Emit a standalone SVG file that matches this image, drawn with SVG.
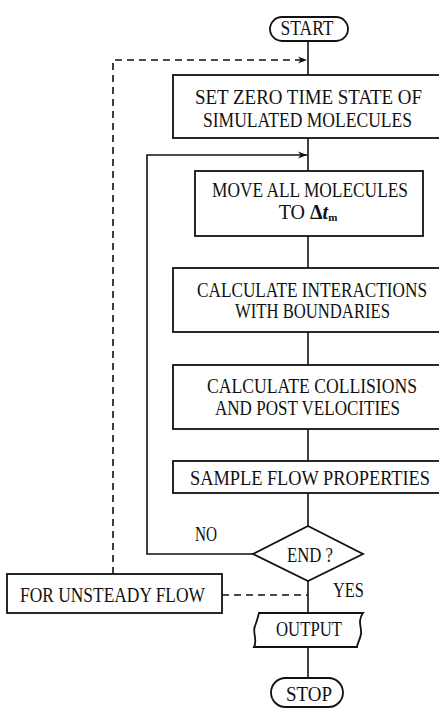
<svg xmlns="http://www.w3.org/2000/svg" width="439" height="710" viewBox="0 0 439 710">
<style>
  .n{fill:#fff;stroke:#111;stroke-width:1.8}
  .t{font-family:"Liberation Serif","Times New Roman",serif;font-size:20px;fill:#111;text-anchor:middle}
  .c{fill:none;stroke:#111;stroke-width:1.6}
  .d{fill:none;stroke:#111;stroke-width:1.6;stroke-dasharray:7 5}
</style>
<defs>
  <marker id="ah" viewBox="0 0 10 10" refX="10" refY="5" markerWidth="9" markerHeight="9" markerUnits="userSpaceOnUse" orient="auto">
    <path d="M0,1 L10,5 L0,9 L3,5 Z" fill="#111"/>
  </marker>
</defs>
<rect width="439" height="710" fill="#fff"/>
<g id="connectors">
  <path class="c" d="M308,41 V75"/>
  <path class="c" d="M308,138 V171"/>
  <path class="c" d="M308,236 V268"/>
  <path class="c" d="M308,332 V365"/>
  <path class="c" d="M308,429 V461"/>
  <path class="c" d="M308,493 V526"/>
  <path class="c" d="M308,581 V613"/>
  <path class="c" d="M308,647 V678"/>
  <path class="c" d="M253,554 H147 V155 H307" marker-end="url(#ah)"/>
  <path class="d" d="M113,574 V60 H307" marker-end="url(#ah)"/>
  <path class="d" d="M222,595 H308"/>
</g>
<g id="start">
  <rect class="n" x="270" y="17" width="78" height="24" rx="12"/>
  <text class="t" x="307" y="35" textLength="53" lengthAdjust="spacingAndGlyphs">START</text>
</g>
<g id="setzero">
  <rect class="n" x="173" y="75" width="275" height="63"/>
  <text class="t" x="308.5" y="104" textLength="227" lengthAdjust="spacingAndGlyphs">SET ZERO TIME STATE OF</text>
  <text class="t" x="307.5" y="127" textLength="209" lengthAdjust="spacingAndGlyphs">SIMULATED MOLECULES</text>
</g>
<g id="move">
  <rect class="n" x="195" y="171" width="228" height="65"/>
  <text class="t" x="310" y="197" textLength="196" lengthAdjust="spacingAndGlyphs">MOVE ALL MOLECULES</text>
  <text class="t" x="308" y="219">TO <tspan font-weight="bold">Δ</tspan><tspan font-weight="bold" font-style="italic">t</tspan><tspan font-size="11" font-weight="bold" dy="2">m</tspan></text>
</g>
<g id="interactions">
  <rect class="n" x="173" y="268" width="275" height="64"/>
  <text class="t" x="312" y="297" textLength="230" lengthAdjust="spacingAndGlyphs">CALCULATE INTERACTIONS</text>
  <text class="t" x="312.5" y="318" textLength="155" lengthAdjust="spacingAndGlyphs">WITH BOUNDARIES</text>
</g>
<g id="collisions">
  <rect class="n" x="173" y="365" width="275" height="64"/>
  <text class="t" x="312" y="393" textLength="210" lengthAdjust="spacingAndGlyphs">CALCULATE COLLISIONS</text>
  <text class="t" x="307.5" y="415" textLength="185" lengthAdjust="spacingAndGlyphs">AND POST VELOCITIES</text>
</g>
<g id="sample">
  <rect class="n" x="173" y="461" width="275" height="32"/>
  <text class="t" x="310" y="485" textLength="240" lengthAdjust="spacingAndGlyphs">SAMPLE FLOW PROPERTIES</text>
</g>
<g id="end">
  <path class="n" d="M308,526 L363,554 L308,581 L253,554 Z"/>
  <text class="t" x="310" y="562" textLength="46" lengthAdjust="spacingAndGlyphs">END ?</text>
</g>
<text class="t" x="206" y="541" textLength="22" lengthAdjust="spacingAndGlyphs">NO</text>
<text class="t" x="348.5" y="597" textLength="31" lengthAdjust="spacingAndGlyphs">YES</text>
<g id="unsteady">
  <rect class="n" x="7" y="574" width="215" height="39"/>
  <text class="t" x="112.5" y="602" textLength="185" lengthAdjust="spacingAndGlyphs">FOR UNSTEADY FLOW</text>
</g>
<g id="output">
  <path class="n" d="M259,613 H363 C357,621 362,628 361,634 C360,640 357,644 357,647 H254 C258,640 252,632 255,626 C257,621 258,617 259,613 Z"/>
  <text class="t" x="309" y="636" textLength="66" lengthAdjust="spacingAndGlyphs">OUTPUT</text>
</g>
<g id="stop">
  <rect class="n" x="271" y="678" width="72" height="29" rx="14.5"/>
  <text class="t" x="309" y="701" textLength="46" lengthAdjust="spacingAndGlyphs">STOP</text>
</g>
</svg>
